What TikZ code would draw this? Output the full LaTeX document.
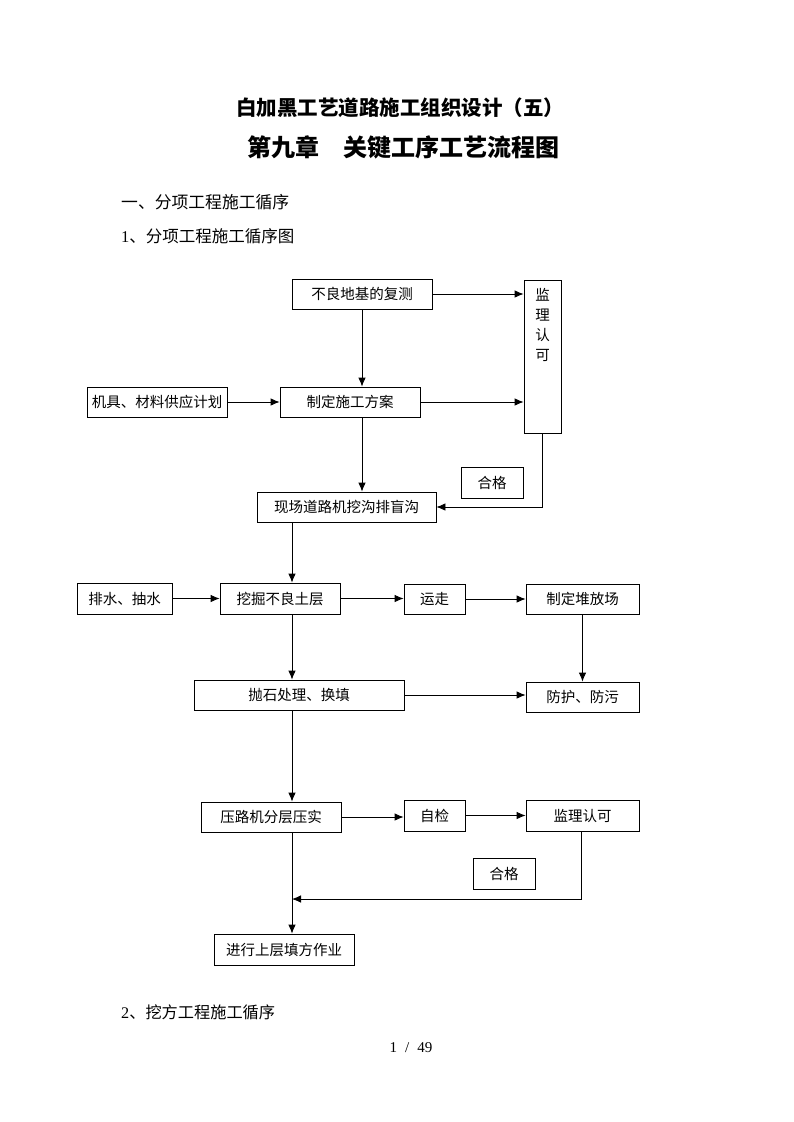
\documentclass[tikz,border=0pt]{standalone}
\usepackage{fontspec}
\setmainfont{Liberation Serif}
\newfontfamily\cjk{Noto Sans CJK SC}
\usetikzlibrary{arrows.meta}
\tikzset{
  box/.style={draw, line width=0.8pt, inner sep=0pt, font=\cjk\fontsize{14.5}{16}\selectfont},
  arr/.style={line width=0.8pt, -{Latex[length=9pt,width=7.5pt]}},
  ln/.style={line width=0.8pt},
  txt/.style={inner sep=0pt, anchor=west},
}
\begin{document}
\begin{tikzpicture}[x=1pt,y=-1pt]
\useasboundingbox[fill=white] (0,0) rectangle (793,1122);
% titles
\node[inner sep=0pt, font=\cjk\bfseries\fontsize{20.5}{22}\selectfont] (t1) at (400,108) {白加黑工艺道路施工组织设计（五）};
\node[inner sep=0pt, font=\cjk\bfseries\fontsize{24}{26}\selectfont] (t2) at (403,147) {第九章\hspace{1em}关键工序工艺流程图};
\node[txt, font=\cjk\fontsize{16.8}{18}\selectfont] (h1) at (121,202) {一、分项工程施工循序};
\node[txt, font=\fontsize{16.5}{18}\selectfont] (h2) at (121,236) {1{\cjk 、分项工程施工循序图}};
\node[txt, font=\fontsize{16.2}{18}\selectfont] (h3) at (121,1012) {2{\cjk 、挖方工程施工循序}};
\node[inner sep=0pt, font=\fontsize{15}{17}\selectfont] (pg) at (411,1048) {1\hspace{8pt}/\hspace{8pt}49};

% coordinates
\coordinate (mx) at (292,0);

% boxes
\node[box, minimum width=140pt, minimum height=30pt] (a) at (362,294) {不良地基的复测};
\node[box, minimum width=37pt, minimum height=153pt] (jl) at (542.5,356.5) {};
\node[inner sep=0pt, anchor=north, align=center, font=\cjk\fontsize{14.5}{20}\selectfont] (jlt) at (542.5,288) {监\\理\\认\\可};
\node[box, minimum width=140pt, minimum height=30pt] (jj) at (157,402) {机具、材料供应计划};
\node[box, minimum width=140pt, minimum height=30pt] (b) at (350,402) {制定施工方案};
\node[box, minimum width=62pt, minimum height=31pt] (hg1) at (492,482.5) {合格};
\node[box, minimum width=179pt, minimum height=30pt] (c) at (346.5,507) {现场道路机挖沟排盲沟};

\node[box, minimum width=95pt, minimum height=31pt] (ps) at (124.5,598.5) {排水、抽水};
\node[box, minimum width=120pt, minimum height=31pt] (wj) at (280,598.5) {挖掘不良土层};
\node[box, minimum width=61pt, minimum height=30pt] (yz) at (434.5,599) {运走};
\node[box, minimum width=113pt, minimum height=30pt] (dfc) at (582.5,599) {制定堆放场};

\node[box, minimum width=210pt, minimum height=30pt] (pst) at (299,695) {抛石处理、换填};
\node[box, minimum width=113pt, minimum height=30pt] (fh) at (582.5,697) {防护、防污};

\node[box, minimum width=140pt, minimum height=30pt] (yl) at (271,817) {压路机分层压实};
\node[box, minimum width=61pt, minimum height=31pt] (zj) at (434.5,815.5) {自检};
\node[box, minimum width=113pt, minimum height=31pt] (jl2) at (582.5,815.5) {监理认可};
\node[box, minimum width=62pt, minimum height=31pt] (hg2) at (504,873.5) {合格};
\node[box, minimum width=140pt, minimum height=31pt] (jx) at (284,949.5) {进行上层填方作业};

% connectors
\draw[arr] (a.east) -- (a.east -| jl.west);
\draw[arr] (b.east) -- (b.east -| jl.west);
\draw[arr] (jj.east) -- (b.west);
\draw[arr] (a.south) -- (a.south |- b.north);
\draw[arr] (a.south |- b.south) -- (a.south |- c.north);
\draw[arr] (jl.south) -- (jl.south |- c.east) -- (c.east);
\draw[arr] (c.south -| mx) -- (wj.north -| mx);

\draw[arr] (ps.east) -- (wj.west);
\draw[arr] (wj.east) -- (wj.east -| yz.west);
\draw[arr] (yz.east) -- (yz.east -| dfc.west);
\draw[arr] (dfc.south) -- (fh.north);
\draw[arr] (wj.south -| mx) -- (pst.north -| mx);
\draw[arr] (pst.east) -- (pst.east -| fh.west);
\draw[arr] (pst.south -| mx) -- (yl.north -| mx);

\draw[arr] (yl.east) -- (yl.east -| zj.west);
\draw[arr] (zj.east) -- (zj.east -| jl2.west);
\coordinate (lp) at (581,899);
\draw[arr] (jl2.south -| lp) -- (lp) -- (lp -| mx);
\draw[arr] (yl.south -| mx) -- (jx.north -| mx);
\end{tikzpicture}
\end{document}
